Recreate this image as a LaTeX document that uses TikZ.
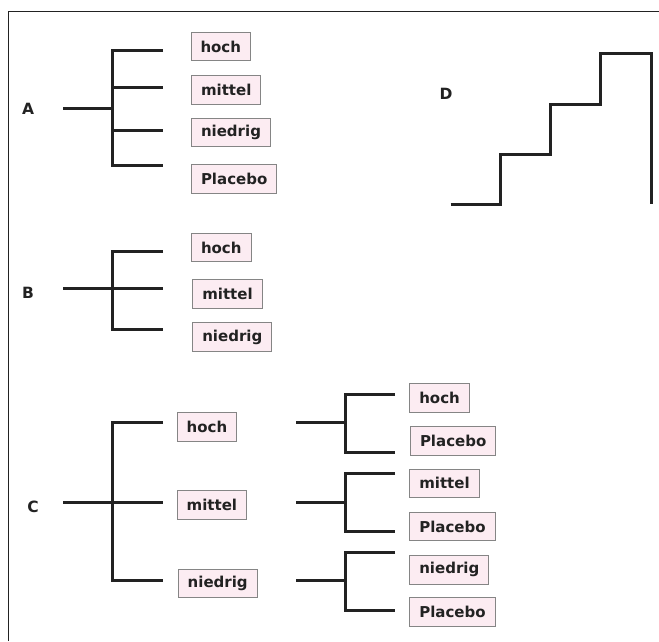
\documentclass[tikz,border=0pt]{standalone}
\usepackage{fontspec}
\setmainfont{DejaVu Sans}
\definecolor{boxfill}{HTML}{FCECF2}
\definecolor{boxline}{HTML}{858585}
\definecolor{ink}{HTML}{222222}
\begin{document}
\begin{tikzpicture}[x=1pt,y=-1pt,
  lbl/.style={font=\fontsize{15.5}{17}\selectfont\bfseries, text=ink, inner sep=0pt},
  armbox/.style={draw=boxline, line width=1pt, fill=boxfill, anchor=west,
     font=\fontsize{15}{17}\selectfont\bfseries, text=ink,
     inner xsep=9.5pt, inner ysep=0pt, minimum height=28.5pt},
  conn/.style={draw=ink, line width=3pt},
  frameline/.style={draw=ink, line width=1pt}]
\useasboundingbox (0,0) rectangle (659,641);
% frame
\coordinate (f1) at (8,641);
\coordinate (f2) at (8,11);
\coordinate (f3) at (659,11);
\draw[frameline] (f1) -- (f2) -- (f3);

% ---------- A ----------
\node[lbl] (labA) at (28,109) {A};
\node[armbox] (A1) at (190.5,46.5) {hoch};
\node[armbox] (A2) at (191,90) {mittel};
\node[armbox] (A3) at (191,132.5) {niedrig};
\node[armbox] (A4) at (191,179) {Placebo};
\coordinate (Ar) at (63,108);
\coordinate (Aj) at (112,108);
\coordinate (Av1) at (112,50.5);
\coordinate (Av2) at (112,87);
\coordinate (Av3) at (112,130);
\coordinate (Av4) at (112,165.5);
\coordinate (Ae1) at (163,50.5);
\coordinate (Ae2) at (163,87);
\coordinate (Ae3) at (163,130);
\coordinate (Ae4) at (163,165.5);
\draw[conn] (Ar) -- (Aj);
\draw[conn] (Ae1) -- (Av1) -- (Av4) -- (Ae4);
\draw[conn] (Av2) -- (Ae2);
\draw[conn] (Av3) -- (Ae3);

% ---------- B ----------
\node[lbl] (labB) at (28,292.5) {B};
\node[armbox] (B1) at (191,247.5) {hoch};
\node[armbox] (B2) at (192.3,294) {mittel};
\node[armbox] (B3) at (192.3,337) {niedrig};
\coordinate (Br) at (63,288);
\coordinate (Bv1) at (112,251.5);
\coordinate (Bv3) at (112,329.5);
\coordinate (Be1) at (163,251.5);
\coordinate (Be2) at (163,288);
\coordinate (Be3) at (163,329.5);
\draw[conn] (Br) -- (Be2);
\draw[conn] (Be1) -- (Bv1) -- (Bv3) -- (Be3);

% ---------- C ----------
\node[lbl] (labC) at (33,506.5) {C};
\node[armbox] (C1) at (176.7,427) {hoch};
\node[armbox] (C2) at (176.7,505) {mittel};
\node[armbox] (C3) at (177.7,583.7) {niedrig};
\coordinate (Cr) at (63,502.5);
\coordinate (Cv1) at (112,422.5);
\coordinate (Cv3) at (112,580.5);
\coordinate (Ce1) at (163,422.5);
\coordinate (Ce2) at (163,502.5);
\coordinate (Ce3) at (163,580.5);
\draw[conn] (Cr) -- (Ce2);
\draw[conn] (Ce1) -- (Cv1) -- (Cv3) -- (Ce3);

% second level
\node[armbox] (C11) at (409.3,397.8) {hoch};
\node[armbox] (C12) at (410,440.8) {Placebo};
\node[armbox] (C21) at (409.3,483.3) {mittel};
\node[armbox] (C22) at (409.3,526.7) {Placebo};
\node[armbox] (C31) at (409.3,569.8) {niedrig};
\node[armbox] (C32) at (409.3,612.2) {Placebo};

\coordinate (D1s) at (296,422.5);
\coordinate (D1j) at (345,422.5);
\coordinate (D1a) at (345,394);
\coordinate (D1b) at (345,452.5);
\coordinate (D1ae) at (395,394);
\coordinate (D1be) at (395,452.5);
\draw[conn] (D1s) -- (D1j);
\draw[conn] (D1ae) -- (D1a) -- (D1b) -- (D1be);

\coordinate (D2s) at (296,502.5);
\coordinate (D2j) at (345,502.5);
\coordinate (D2a) at (345,473.5);
\coordinate (D2b) at (345,531.5);
\coordinate (D2ae) at (395,473.5);
\coordinate (D2be) at (395,531.5);
\draw[conn] (D2s) -- (D2j);
\draw[conn] (D2ae) -- (D2a) -- (D2b) -- (D2be);

\coordinate (D3s) at (296,580.5);
\coordinate (D3j) at (345,580.5);
\coordinate (D3a) at (345,552.5);
\coordinate (D3b) at (345,610);
\coordinate (D3ae) at (395,552.5);
\coordinate (D3be) at (395,610);
\draw[conn] (D3s) -- (D3j);
\draw[conn] (D3ae) -- (D3a) -- (D3b) -- (D3be);

% ---------- D ----------
\node[lbl] (labD) at (446,94.3) {D};
\coordinate (s0) at (450.7,204);
\coordinate (s1) at (500.7,204);
\coordinate (s2) at (500.7,154.5);
\coordinate (s3) at (550.7,154.5);
\coordinate (s4) at (550.7,104);
\coordinate (s5) at (600.7,104);
\coordinate (s6) at (600.7,53.5);
\coordinate (s7) at (651.7,53.5);
\coordinate (s8) at (651.7,204);
\draw[conn, line join=miter] (s0) -- (s1) -- (s2) -- (s3) -- (s4) -- (s5) -- (s6) -- (s7) -- (s8);
\end{tikzpicture}
\end{document}
